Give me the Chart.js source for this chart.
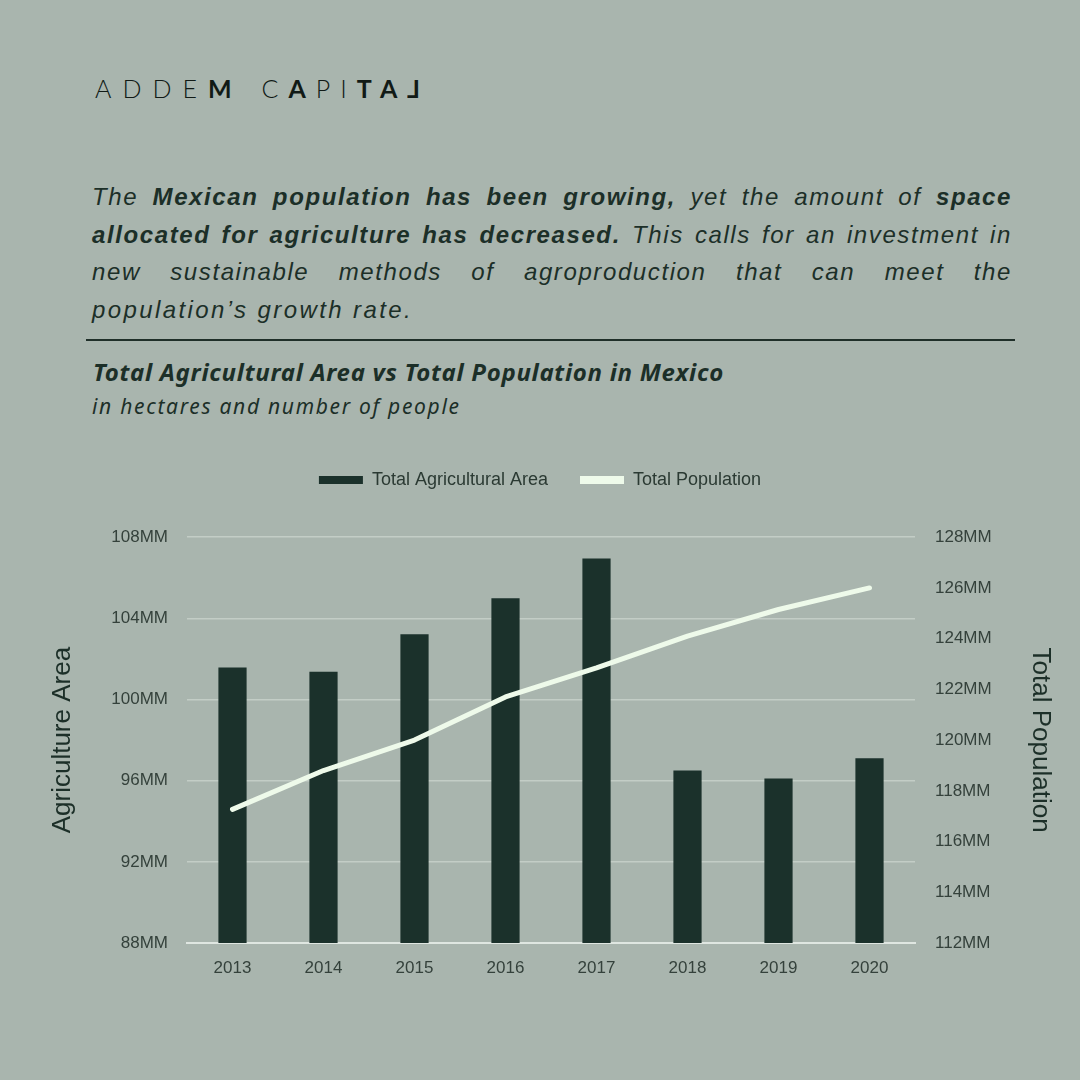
<!DOCTYPE html>
<html><head><meta charset="utf-8">
<script src="https://cdn.jsdelivr.net/npm/chart.js@4.4.0/dist/chart.umd.min.js"></script>
<style>
html,body{margin:0;padding:0;background:#a9b5ae;width:1080px;height:1080px;overflow:hidden;position:relative}
#logo{position:absolute;left:95px;top:73px;font-family:'Lato','Noto Sans',sans-serif;font-size:25px;color:#111a16;line-height:30px;white-space:nowrap}
#logo .w1{letter-spacing:11px}
#logo .w2{letter-spacing:10px;margin-left:19px}
#logo .l{font-weight:300}
#logo .b{font-weight:700}
#logo .r{display:inline-block;transform:scaleX(-1);font-weight:700;letter-spacing:0}
#para{position:absolute;left:92px;top:178px;width:920px;font-family:'Liberation Sans',Arial,sans-serif;font-style:italic;font-size:24px;line-height:37.5px;letter-spacing:1.6px;color:#1c2f28}
#para div{white-space:nowrap}
#para .j{text-align:justify;text-align-last:justify;white-space:normal}
#para .last{letter-spacing:2.4px}
#para b{font-weight:700}
#rule{position:absolute;left:86px;top:339px;width:929px;height:2px;background:#1f2f29}
#title{position:absolute;left:93px;top:355px;font-family:'Noto Sans',sans-serif;font-style:italic;font-weight:700;font-size:24px;letter-spacing:0.7px;color:#1c2f28;white-space:nowrap}
#sub{position:absolute;left:92px;top:392px;font-family:'Noto Sans',sans-serif;font-style:italic;font-size:21px;letter-spacing:1.7px;color:#1c2f28;white-space:nowrap}
#wrap{position:absolute;left:0;top:432px;width:1080px;height:583px}
</style></head>
<body>
<div id="logo"><span class="w1"><span class="l">ADDE</span><span class="b">M</span></span><span class="w2"><span class="l">C</span><span class="b">A</span><span class="l">PI</span><span class="b">TA</span></span><span class="r">L</span></div>
<div id="para">
<div class="j">The <b>Mexican population has been growing,</b> yet the amount of <b>space</b></div>
<div class="j"><b>allocated for agriculture has decreased.</b> This calls for an investment in</div>
<div class="j">new sustainable methods of agroproduction that can meet the</div>
<div class="last">population’s growth rate.</div>
</div>
<div id="rule"></div>
<div id="title">Total Agricultural Area vs Total Population in Mexico</div>
<div id="sub">in hectares and number of people</div>
<div id="wrap"><canvas id="c"></canvas></div>
<script>
const years = ['2013','2014','2015','2016','2017','2018','2019','2020'];
const agriArea = [101.58, 101.37, 103.22, 104.99, 106.95, 96.5, 96.11, 97.1];
const population = [117.27, 118.8, 120.0, 121.7, 122.85, 124.1, 125.15, 126.0];
const seriesNames = ['Total Agricultural Area', 'Total Population'];
const axisTitles = ['Agriculture Area', 'Total Population'];

const tickColor = '#34413b';
const ctx = document.getElementById('c');
new Chart(ctx, {
  data: {
    labels: years,
    datasets: [
      {type:'bar', label:seriesNames[0], data:agriArea, yAxisID:'yL', order:1,
       backgroundColor:'#1b312b', borderWidth:0, barPercentage:0.31, categoryPercentage:1},
      {type:'line', label:seriesNames[1], data:population, yAxisID:'yR', order:0,
       borderColor:'#eefaea', backgroundColor:'#eefaea', borderWidth:5, pointRadius:0,
       borderCapStyle:'round', borderJoinStyle:'round', tension:0}
    ]
  },
  options: {
    responsive:true, maintainAspectRatio:false, animation:false,
    layout:{padding:{top:7,left:0,right:0,bottom:0}},
    plugins:{
      tooltip:{enabled:false},
      title:{display:true, text:' ', weight:500, position:'top', font:{size:1}, padding:{top:0,bottom:37}},
      legend:{
        position:'top',
        labels:{
          color:'#2b3a33', font:{family:'Liberation Sans', size:18}, boxWidth:44, boxHeight:8, padding:32,
          sort:(a,b)=>a.datasetIndex-b.datasetIndex,
          generateLabels:(chart)=>{
            const items = Chart.defaults.plugins.legend.labels.generateLabels(chart);
            items.forEach(it=>{ it.lineWidth = 0; });
            return items;
          }
        }
      }
    },
    scales:{
      x:{
        grid:{display:false, drawTicks:false},
        border:{display:true, color:'#dfe6e1', width:2},
        ticks:{color:tickColor, font:{family:'Liberation Sans', size:17}, padding:15},
        afterFit:(s)=>{ s.height = 72; }
      },
      yL:{
        position:'left', min:88, max:108,
        grid:{color:'#c3cdc6', lineWidth:1.5, drawTicks:false},
        border:{display:false},
        ticks:{stepSize:4, color:tickColor, font:{family:'Liberation Sans', size:17}, padding:19,
               callback:(v)=>v+'MM'},
        title:{display:true, text:axisTitles[0], color:'#1c2f28', font:{family:'Liberation Sans', size:26}, padding:{top:47,bottom:0}},
        afterFit:(s)=>{ s.width = 187; }
      },
      yR:{
        position:'right', min:112, max:128,
        grid:{display:false, drawTicks:false},
        border:{display:false},
        ticks:{stepSize:2, color:tickColor, font:{family:'Liberation Sans', size:17}, padding:20,
               callback:(v)=>v+'MM'},
        title:{display:true, text:axisTitles[1], color:'#1c2f28', font:{family:'Liberation Sans', size:26}, padding:{top:24,bottom:0}},
        afterFit:(s)=>{ s.width = 165; }
      }
    }
  }
});
</script>
</body></html>
